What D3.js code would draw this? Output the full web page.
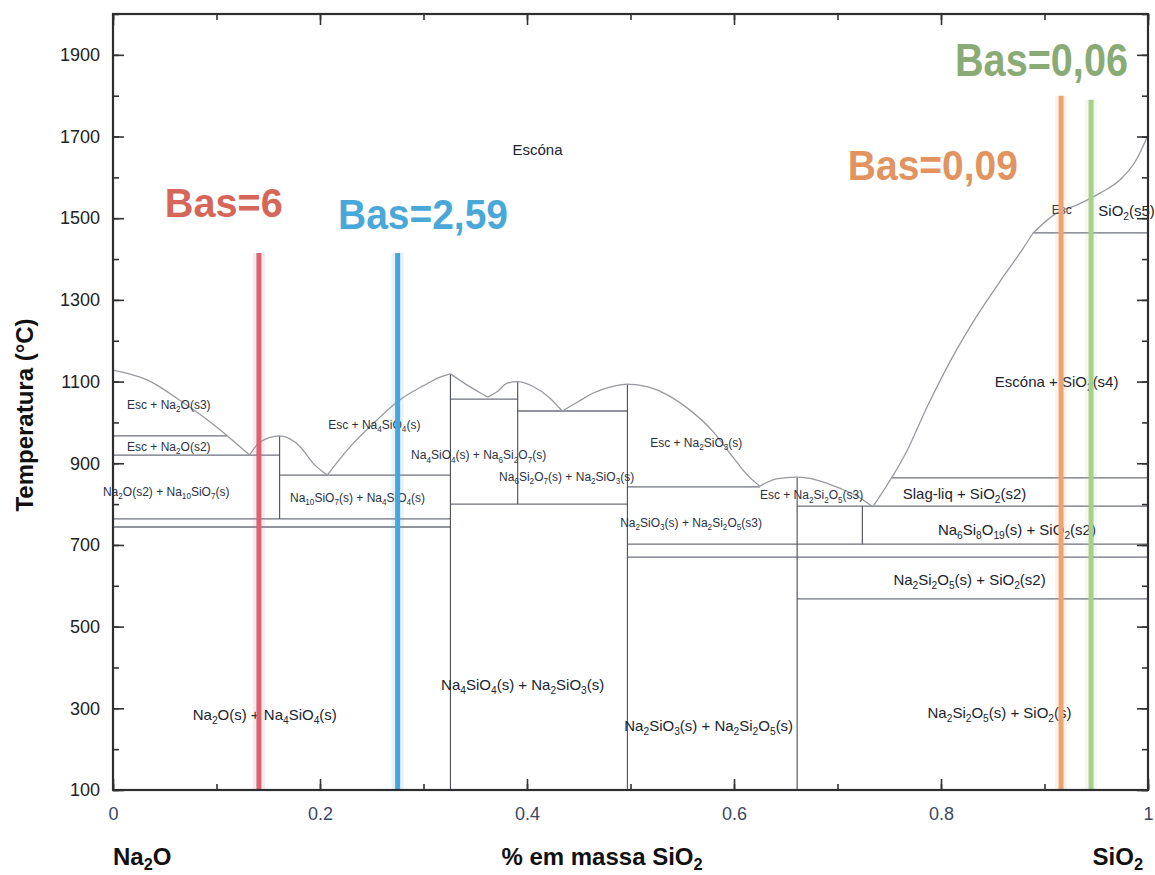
<!DOCTYPE html>
<html>
<head>
<meta charset="utf-8">
<script src="https://cdn.jsdelivr.net/npm/d3@7"></script>
<style>
  body { margin: 0; background: #fff; }
  svg { display: block; }
  text { font-family: "Liberation Sans", Arial, sans-serif; }
</style>
</head>
<body>
<svg id="chart" width="1155" height="875"></svg>
<script>
// ---- Axis ticks ----
const tempTicks = [100,200,300,400,500,600,700,800,900,1000,1100,1200,1300,1400,1500,1600,1700,1800,1900,2000];
const tempLabelTicks = [100,300,500,700,900,1100,1300,1500,1700,1900];
const fracTicks = [0,0.1,0.2,0.3,0.4,0.5,0.6,0.7,0.8,0.9,1];
const fracLabelTicks = [0,0.2,0.4,0.6,0.8,1];
const fracLabelText = ["0","0.2","0.4","0.6","0.8","1"];

// ---- Liquidus (mass fraction SiO2, °C), one branch per primary phase ----
const liquidusNa2O     = [[0,1128],[0.033,1104],[0.068,1048],[0.100,989],[0.132,920]];
const liquidusLowNa    = [[0.132,920],[0.142,952],[0.161,967],[0.181,940],[0.193,901],[0.207,871]];
const liquidusOrthoA   = [[0.207,871],[0.229,940],[0.255,1006],[0.277,1055],[0.300,1090],[0.316,1111],[0.326,1119]];
const liquidusOrthoB   = [[0.326,1119],[0.342,1092],[0.355,1072],[0.362,1062]];
const liquidusPyro     = [[0.362,1062],[0.371,1075],[0.381,1096],[0.391,1100],[0.406,1088],[0.422,1060],[0.434,1028]];
const liquidusMeta     = [[0.434,1028],[0.449,1050],[0.464,1072],[0.481,1087],[0.497,1094],[0.517,1087],[0.536,1067],[0.555,1035],[0.580,977],[0.599,915],[0.613,871],[0.625,844]];
const liquidusDi       = [[0.625,844],[0.641,862],[0.661,866],[0.680,859],[0.702,839],[0.722,815],[0.734,793]];
const liquidusSilicaA  = [[0.734,793],[0.767,930],[0.787,1040],[0.809,1150],[0.835,1262],[0.857,1345],[0.879,1425],[0.889,1464]];
const liquidusSilicaB  = [[0.889,1464],[0.912,1513],[0.931,1532],[0.954,1562],[0.973,1594],[0.988,1640],[1.0,1704]];

// ---- Invariant (horizontal) lines: [x from, x to, T] ----
const invariantLines = [
  [0, 0.110, 967],
  [0, 0.161, 920],
  [0.161, 0.326, 871],
  [0, 0.326, 764],
  [0, 0.326, 744],
  [0.326, 0.391, 1057],
  [0.391, 0.497, 1028],
  [0.326, 0.497, 800],
  [0.497, 0.625, 842],
  [0.752, 1, 864],
  [0.661, 1, 795],
  [0.497, 1, 702],
  [0.497, 1, 670],
  [0.661, 1, 568],
  [0.889, 1, 1464]
];

// ---- Compound (vertical) lines: [x, T top, T bottom] ----
const compoundLines = [
  [0.161, 967, 764],
  [0.326, 1119, 100],
  [0.391, 1100, 800],
  [0.497, 1094, 100],
  [0.661, 866, 100],
  [0.724, 795, 702]
];

// ---- Slag basicity compositions ----
const basNames   = ["Bas=6", "Bas=2,59", "Bas=0,09", "Bas=0,06"];
const basSilica  = [0.141, 0.275, 0.916, 0.945];
const basTopTemp = [1415, 1415, 1800, 1790];
const basTextAt  = [[0.050, 1503], [0.2174, 1474], [0.710, 1594], [0.8135, 1848]];

// ---- Phase field labels: [text, x, T]  ("_n" = subscript) ----
const smallLabels = [
  ["Esc + Na_2O(s3)", 0.0135, 1033],
  ["Esc + Na_2O(s2)", 0.0135, 930],
  ["Na_2O(s2) + Na_10SiO_7(s)", -0.0097, 820],
  ["Esc + Na_4SiO_4(s)", 0.208, 984],
  ["Na_10SiO_7(s) + Na_4SiO_4(s)", 0.171, 805],
  ["Na_4SiO_4(s) + Na_6Si_2O_7(s)", 0.288, 910],
  ["Na_6Si_2O_7(s) + Na_2SiO_3(s)", 0.373, 857],
  ["Esc + Na_2SiO_3(s)", 0.519, 940],
  ["Na_2SiO_3(s) + Na_2Si_2O_5(s3)", 0.490, 744],
  ["Esc + Na_2Si_2O_5(s3)", 0.625, 812],
  ["Esc", 0.907, 1510]
];
const largeLabels = [
  ["Escóna", 0.386, 1655],
  ["Slag-liq + SiO_2(s2)", 0.763, 812],
  ["Na_6Si_8O_19(s) + SiO_2(s2)", 0.797, 724],
  ["Na_2Si_2O_5(s) + SiO_2(s2)", 0.754, 602],
  ["SiO_2(s5)", 0.952, 1505],
  ["Escóna + SiO_2(s4)", 0.852, 1087],
  ["Na_4SiO_4(s) + Na_2SiO_3(s)", 0.317, 345],
  ["Na_2O(s) + Na_4SiO_4(s)", 0.077, 271],
  ["Na_2SiO_3(s) + Na_2Si_2O_5(s)", 0.494, 244],
  ["Na_2Si_2O_5(s) + SiO_2(s)", 0.787, 276]
];

// ---- Layout ----
const svg = d3.select("#chart");
const x = d3.scaleLinear().domain([0, 1]).range([113, 1148]);
const y = d3.scaleLinear().domain([100, 2000]).range([790, 14]);

const basLineColor = ["#d66473", "#45a6dd", "#eea46f", "#a8cf8c"];
const basTextColor = ["#d6665a", "#4aa8d8", "#e2935f", "#8aab76"];

// Write a label with "_n" subscripts as tspans
function richText(sel, str, size, drop = 0.28) {
  const parts = str.split(/_(\d+)/);
  let shifted = false;
  parts.forEach((p, i) => {
    if (!p) return;
    const t = sel.append("tspan").text(p);
    if (i % 2 === 1) {
      t.attr("font-size", size * 0.68).attr("dy", size * drop);
      shifted = true;
    } else if (shifted) {
      t.attr("dy", -size * drop);
      shifted = false;
    }
  });
}

// Invariant lines
svg.append("g").selectAll("line").data(invariantLines).join("line")
  .attr("x1", d => x(d[0])).attr("x2", d => x(d[1]))
  .attr("y1", d => y(d[2])).attr("y2", d => y(d[2]))
  .attr("stroke", "#6c717b").attr("stroke-width", 1.3);

// Compound lines
svg.append("g").selectAll("line").data(compoundLines).join("line")
  .attr("x1", d => x(d[0])).attr("x2", d => x(d[0]))
  .attr("y1", d => y(d[1])).attr("y2", d => y(d[2]))
  .attr("stroke", "#4a4d55").attr("stroke-width", 1.1);

// Liquidus
const liq = d3.line().x(d => x(d[0])).y(d => y(d[1])).curve(d3.curveMonotoneX);
svg.append("g").selectAll("path")
  .data([liquidusNa2O, liquidusLowNa, liquidusOrthoA, liquidusOrthoB, liquidusPyro,
         liquidusMeta, liquidusDi, liquidusSilicaA, liquidusSilicaB])
  .join("path")
  .attr("d", liq).attr("fill", "none")
  .attr("stroke", "#96999f").attr("stroke-width", 1.3);

// Phase field labels
const gLab = svg.append("g");
smallLabels.forEach(([s, lx, lt]) => {
  const t = gLab.append("text").attr("x", x(lx)).attr("y", y(lt))
    .attr("font-size", 12).attr("fill", "#2a3142");
  richText(t, s, 12);
});
largeLabels.forEach(([s, lx, lt]) => {
  const t = gLab.append("text").attr("x", x(lx)).attr("y", y(lt))
    .attr("font-size", 15).attr("fill", "#20242e");
  richText(t, s, 15);
});

// Basicity lines
const gBas = svg.append("g");
basSilica.forEach((v, i) => {
  gBas.append("line")
    .attr("x1", x(v)).attr("x2", x(v)).attr("y1", y(basTopTemp[i])).attr("y2", y(100))
    .attr("stroke", basLineColor[i]).attr("stroke-width", 12).attr("opacity", 0.12);
  gBas.append("line")
    .attr("x1", x(v)).attr("x2", x(v)).attr("y1", y(basTopTemp[i])).attr("y2", y(100))
    .attr("stroke", basLineColor[i]).attr("stroke-width", 5);
});
const basWidths = [118, 170, 170, 173];
const basSizes = [41, 43, 42, 46];
basNames.forEach((s, i) => {
  gBas.append("text")
    .attr("x", x(basTextAt[i][0])).attr("y", y(basTextAt[i][1]))
    .attr("font-size", basSizes[i]).attr("font-weight", "bold")
    .attr("fill", basTextColor[i])
    .attr("textLength", basWidths[i]).attr("lengthAdjust", "spacingAndGlyphs")
    .text(s);
});

// Axes: inward ticks on all four sides
function styleAxis(g) {
  g.select(".domain").remove();
  g.selectAll(".tick line").attr("stroke", "#333").attr("stroke-width", 1.6);
}
const yB = y(100), yT = y(2000), xL = x(0), xR = x(1);

svg.append("g").attr("transform", `translate(0,${yB})`)
  .call(d3.axisBottom(x).tickValues(fracTicks).tickSize(-6).tickFormat("")).call(styleAxis);
svg.append("g").attr("transform", `translate(0,${yB})`)
  .call(d3.axisBottom(x).tickValues(fracLabelTicks).tickSize(-11).tickPadding(17)
        .tickFormat((d, i) => fracLabelText[i]))
  .call(styleAxis)
  .call(g => g.selectAll("text").attr("font-size", 18).attr("fill", "#3d4863")
    .attr("font-family", "'Liberation Sans', Arial, sans-serif"));
svg.append("g").attr("transform", `translate(0,${yT})`)
  .call(d3.axisTop(x).tickValues(fracTicks).tickSize(-6).tickFormat("")).call(styleAxis);
svg.append("g").attr("transform", `translate(0,${yT})`)
  .call(d3.axisTop(x).tickValues(fracLabelTicks).tickSize(-11).tickFormat("")).call(styleAxis);

svg.append("g").attr("transform", `translate(${xL},0)`)
  .call(d3.axisLeft(y).tickValues(tempTicks).tickSize(-6).tickFormat("")).call(styleAxis);
svg.append("g").attr("transform", `translate(${xL},0)`)
  .call(d3.axisLeft(y).tickValues(tempLabelTicks).tickSize(-11).tickPadding(13)
        .tickFormat(d3.format("d")))
  .call(styleAxis)
  .call(g => g.selectAll("text").attr("font-size", 18).attr("fill", "#222")
    .attr("font-family", "'Liberation Sans', Arial, sans-serif"));
svg.append("g").attr("transform", `translate(${xR},0)`)
  .call(d3.axisRight(y).tickValues(tempTicks).tickSize(-6).tickFormat("")).call(styleAxis);
svg.append("g").attr("transform", `translate(${xR},0)`)
  .call(d3.axisRight(y).tickValues(tempLabelTicks).tickSize(-11).tickFormat("")).call(styleAxis);

// Frame
svg.append("rect")
  .attr("x", xL).attr("y", yT).attr("width", xR - xL).attr("height", yB - yT)
  .attr("fill", "none").attr("stroke", "#2e2e30").attr("stroke-width", 2.2);

// Axis titles
svg.append("text")
  .attr("transform", `translate(33,415) rotate(-90)`)
  .attr("text-anchor", "middle").attr("font-size", 24).attr("font-weight", "bold")
  .attr("fill", "#111").text("Temperatura (°C)");

const xt = svg.append("text").attr("x", 602).attr("y", 865)
  .attr("text-anchor", "middle").attr("font-size", 24).attr("font-weight", "bold").attr("fill", "#111");
richText(xt, "% em massa SiO_2", 24, 0.2);

const lt = svg.append("text").attr("x", xL).attr("y", 865)
  .attr("font-size", 24).attr("font-weight", "bold").attr("fill", "#111");
richText(lt, "Na_2O", 24, 0.2);

const rt = svg.append("text").attr("x", xR - 5).attr("y", 865).attr("text-anchor", "end")
  .attr("font-size", 24).attr("font-weight", "bold").attr("fill", "#111");
richText(rt, "SiO_2", 24, 0.2);
</script>
</body>
</html>
